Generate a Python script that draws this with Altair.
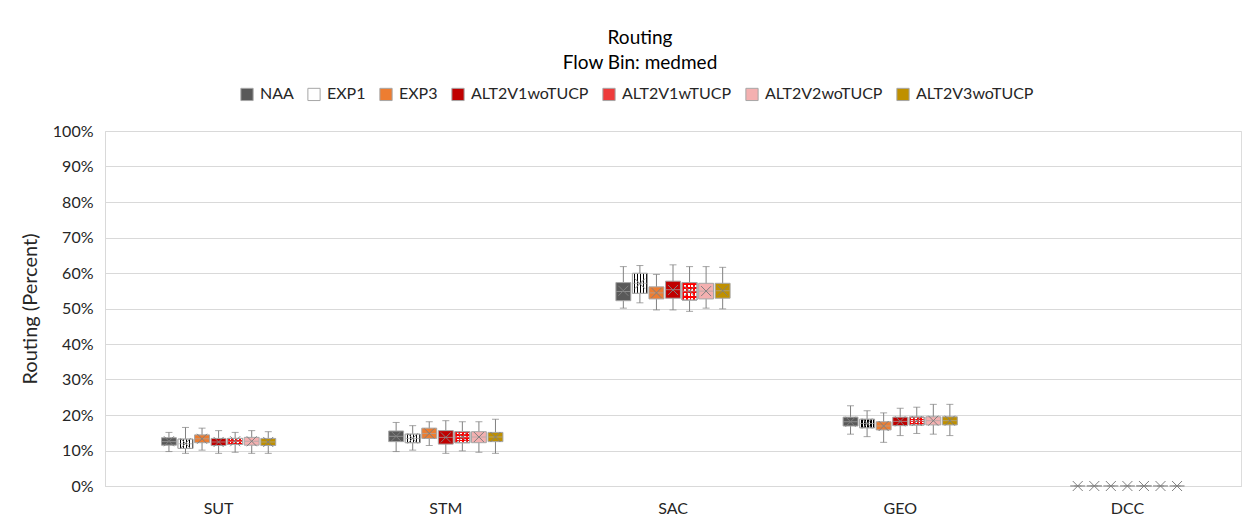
import altair as alt
import pandas as pd

categories = ["SUT", "STM", "SAC", "GEO", "DCC"]
series = ["NAA", "EXP1", "EXP3", "ALT2V1woTUCP", "ALT2V1wTUCP", "ALT2V2woTUCP", "ALT2V3woTUCP"]
colors = ["#595959", "#FFFFFF", "#ED7D31", "#C00000", "#EE3B3B", "#F4B0B0", "#BF9000"]

# Values in percent, per series, in category order SUT, STM, SAC, GEO, DCC
mins = {
    "NAA":          [9.7, 9.7, 50.1, 14.6, 0],
    "EXP1":         [9.2, 10.1, 51.6, 13.9, 0],
    "EXP3":         [10.1, 11.4, 49.6, 12.3, 0],
    "ALT2V1woTUCP": [9.2, 9.2, 49.6, 14.2, 0],
    "ALT2V1wTUCP":  [9.5, 9.9, 49.2, 14.8, 0],
    "ALT2V2woTUCP": [9.2, 9.5, 50.1, 14.6, 0],
    "ALT2V3woTUCP": [9.2, 9.2, 49.9, 14.2, 0],
}
q1s = {
    "NAA":          [11.5, 12.5, 52.2, 16.9, 0],
    "EXP1":         [10.6, 12.2, 54.3, 16.4, 0],
    "EXP3":         [12.2, 13.4, 52.7, 15.8, 0],
    "ALT2V1woTUCP": [11.4, 11.8, 52.9, 17.0, 0],
    "ALT2V1wTUCP":  [11.7, 12.2, 52.4, 17.2, 0],
    "ALT2V2woTUCP": [11.5, 12.2, 52.7, 17.2, 0],
    "ALT2V3woTUCP": [11.4, 12.5, 52.9, 17.2, 0],
}
medians = {
    "NAA":          [12.5, 14.0, 54.8, 18.1, 0],
    "EXP1":         [11.9, 13.4, 57.1, 17.6, 0],
    "EXP3":         [13.3, 14.8, 54.4, 16.9, 0],
    "ALT2V1woTUCP": [12.4, 13.7, 55.3, 18.2, 0],
    "ALT2V1wTUCP":  [12.6, 13.8, 54.9, 18.3, 0],
    "ALT2V2woTUCP": [12.6, 13.8, 54.9, 18.4, 0],
    "ALT2V3woTUCP": [12.4, 13.8, 55.0, 18.4, 0],
}
q3s = {
    "NAA":          [13.6, 15.5, 57.3, 19.4, 0],
    "EXP1":         [13.2, 14.6, 59.9, 18.8, 0],
    "EXP3":         [14.4, 16.3, 56.1, 18.1, 0],
    "ALT2V1woTUCP": [13.4, 15.6, 57.7, 19.4, 0],
    "ALT2V1wTUCP":  [13.4, 15.3, 57.3, 19.4, 0],
    "ALT2V2woTUCP": [13.7, 15.3, 57.1, 19.5, 0],
    "ALT2V3woTUCP": [13.4, 15.1, 57.1, 19.5, 0],
}
maxs = {
    "NAA":          [15.1, 17.9, 61.8, 22.6, 0],
    "EXP1":         [16.5, 17.0, 62.1, 21.2, 0],
    "EXP3":         [16.3, 18.1, 59.6, 20.6, 0],
    "ALT2V1woTUCP": [15.6, 18.4, 62.3, 21.9, 0],
    "ALT2V1wTUCP":  [15.1, 18.1, 61.8, 22.2, 0],
    "ALT2V2woTUCP": [15.6, 18.1, 61.8, 23.0, 0],
    "ALT2V3woTUCP": [15.3, 18.8, 61.6, 23.0, 0],
}
means = {
    "NAA":          [12.6, 14.0, 55.0, 18.1, 0],
    "EXP1":         [12.0, 13.4, 57.0, 17.6, 0],
    "EXP3":         [13.3, 14.8, 54.4, 16.9, 0],
    "ALT2V1woTUCP": [12.4, 13.7, 55.2, 18.2, 0],
    "ALT2V1wTUCP":  [12.6, 13.8, 54.9, 18.3, 0],
    "ALT2V2woTUCP": [12.6, 13.8, 54.9, 18.4, 0],
    "ALT2V3woTUCP": [12.4, 13.8, 55.0, 18.4, 0],
}
y_ticks = [0, 10, 20, 30, 40, 50, 60, 70, 80, 90, 100]

rows = []
for s in series:
    for i, c in enumerate(categories):
        rows.append(dict(category=c, series=s, lo=mins[s][i], q1=q1s[s][i],
                         med=medians[s][i], q3=q3s[s][i], hi=maxs[s][i], mean=means[s][i]))
df = pd.DataFrame(rows)

FONT = "Lato"
GRID = "#D9D9D9"
EDGE = "#A6A6A6"
WHISK = "#808080"


def stripes(c1, c2, n, frac, vertical):
    stops = []
    for i in range(n):
        a = i / n
        b = (i + frac) / n
        c = (i + 1) / n
        stops += [
            {"offset": a, "color": c1},
            {"offset": b, "color": c1},
            {"offset": b, "color": c2},
            {"offset": c, "color": c2},
        ]
    g = {"gradient": "linear", "stops": stops}
    if vertical:
        g.update(x1=0, x2=1, y1=0, y2=0)
    else:
        g.update(x1=0, x2=0, y1=0, y2=1)
    return g


X = alt.X("category:N", sort=categories,
          scale=alt.Scale(domain=categories, paddingInner=0.49, paddingOuter=0.245),
          axis=alt.Axis(title=None, labelAngle=0, labelFontSize=16, labelPadding=14,
                        labelColor="#262626", ticks=False, grid=False, domainColor=GRID,
                        labelFont=FONT))
XO = alt.XOffset("series:N", sort=series,
                 scale=alt.Scale(domain=series, paddingInner=0.1, paddingOuter=0.05))
YSCALE = alt.Scale(domain=[0, 100], nice=False)
YAXIS = alt.Axis(title="Routing (Percent)", values=y_ticks, labelOverlap=False,
                 labelExpr="datum.value + '%'", labelFontSize=16, labelColor="#262626",
                 labelPadding=12, titleFontSize=20, titleFontWeight="normal",
                 titleColor="#262626", titlePadding=12, ticks=False,
                 grid=True, gridColor=GRID, domainColor=GRID,
                 labelFont=FONT, titleFont=FONT)


def yenc(field):
    return alt.Y(field, scale=YSCALE, axis=YAXIS)


base = alt.Chart(df)

whiskers = base.mark_rule(color=WHISK, strokeWidth=1).encode(
    x=X, xOffset=XO, y=yenc("lo:Q"), y2="hi:Q")

boxes = base.mark_bar(stroke=EDGE, strokeWidth=1).encode(
    x=X, xOffset=XO, y=yenc("q1:Q"), y2="q3:Q",
    color=alt.Color("series:N", sort=series,
                    scale=alt.Scale(domain=series, range=colors),
                    legend=alt.Legend(title=None, orient="none", direction="horizontal",
                                      legendX=134, legendY=-45, symbolType="square",
                                      symbolSize=150, symbolStrokeColor=EDGE,
                                      symbolStrokeWidth=1, labelFontSize=16,
                                      labelColor="#262626", labelFont=FONT,
                                      columnPadding=11, symbolOffset=0, labelOffset=5)))

exp1 = base.transform_filter("datum.series == 'EXP1'").mark_bar(
    fill=stripes("#FFFFFF", "#000000", 5, 0.55, True), stroke=EDGE, strokeWidth=1).encode(
    x=X, xOffset=XO, y=yenc("q1:Q"), y2="q3:Q")

chk_a = base.transform_filter("datum.series == 'ALT2V1wTUCP'").mark_bar(
    fill=stripes("#FF0000", "#FFFFFF", 4, 0.5, False), stroke=EDGE, strokeWidth=1).encode(
    x=X, xOffset=XO, y=yenc("q1:Q"), y2="q3:Q")
chk_b = base.transform_filter("datum.series == 'ALT2V1wTUCP'").mark_bar(
    fill=stripes("#FF0000", "rgba(255,0,0,0)", 4, 0.5, True), stroke=EDGE, strokeWidth=1).encode(
    x=X, xOffset=XO, y=yenc("q1:Q"), y2="q3:Q")

cap_lo = base.mark_tick(color=WHISK, thickness=1, size=7).encode(
    x=X, xOffset=XO, y=yenc("lo:Q"))
cap_hi = base.mark_tick(color=WHISK, thickness=1, size=7).encode(
    x=X, xOffset=XO, y=yenc("hi:Q"))
median = base.mark_tick(color=EDGE, thickness=1, size=14).encode(
    x=X, xOffset=XO, y=yenc("med:Q"))
mean_pt = base.mark_point(shape="M-1,-1L1,1M-1,1L1,-1", filled=False, color=WHISK,
                          strokeWidth=1, size=100, opacity=1).encode(
    x=X, xOffset=XO, y=yenc("mean:Q"))

chart = alt.layer(whiskers, boxes, exp1, chk_a, chk_b, cap_lo, cap_hi, median, mean_pt).properties(
    width=1136, height=355,
    autosize=alt.AutoSizeParams(type="none"),
    padding={"left": 97, "top": 123, "right": 2, "bottom": 30},
    title=alt.TitleParams(text="Routing", subtitle="Flow Bin: medmed", fontSize=19,
                          subtitleFontSize=19, font=FONT, subtitleFont=FONT,
                          fontWeight="normal", color="#000000", subtitleColor="#000000",
                          anchor="middle", frame="group", dx=-33, offset=13,
                          subtitlePadding=6),
).configure_view(stroke=None).configure(background="white")

chart.save("out.html", embed_options={"renderer": "svg", "actions": False})
